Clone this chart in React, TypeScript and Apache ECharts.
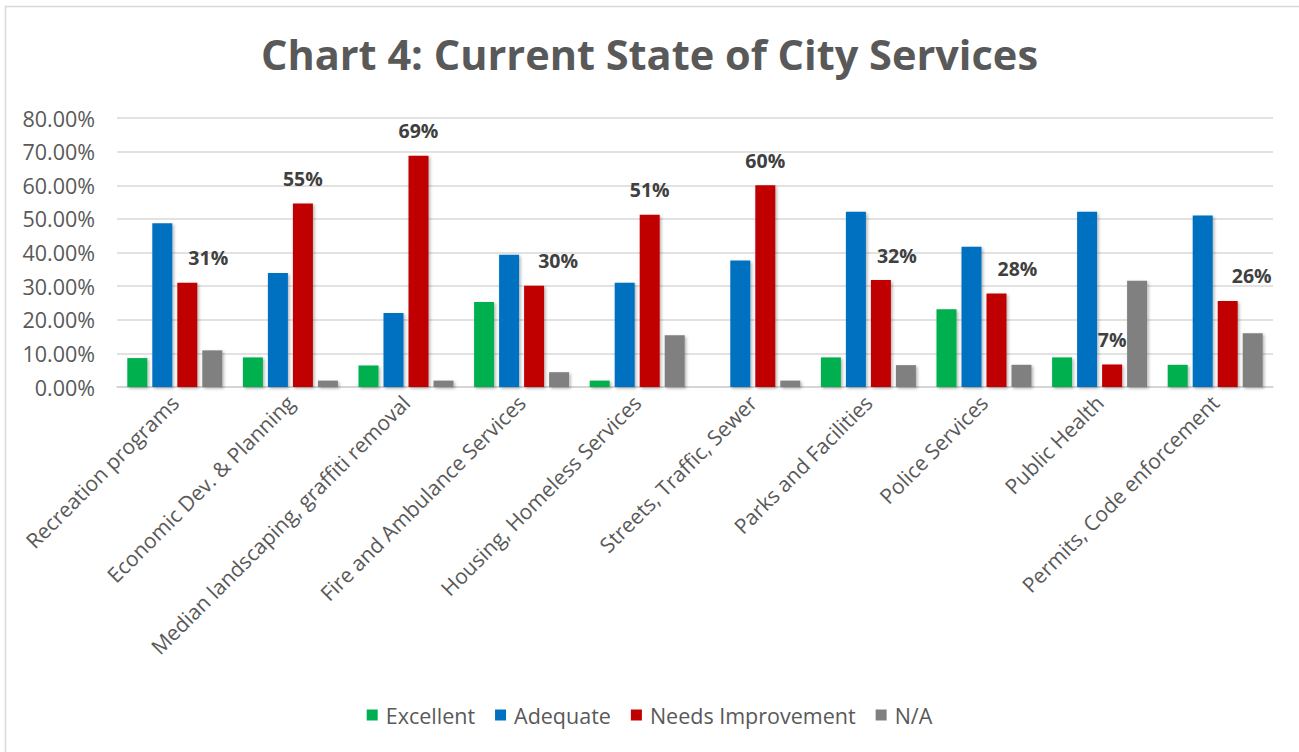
import React, { useEffect, useRef } from "react";
import * as echarts from "echarts";

const categories = [
  "Recreation programs",
  "Economic Dev. & Planning",
  "Median landscaping, graffiti removal",
  "Fire and Ambulance Services",
  "Housing, Homeless Services",
  "Streets, Traffic, Sewer",
  "Parks and Facilities",
  "Police Services",
  "Public Health",
  "Permits, Code enforcement",
];

const excellent = [8.6, 8.8, 6.4, 25.3, 1.9, 0, 8.8, 23.1, 8.8, 6.6];
const adequate = [48.7, 33.9, 22.0, 39.3, 31.0, 37.6, 52.1, 41.7, 52.1, 51.0];
const needsImprovement = [31.0, 54.6, 68.8, 30.1, 51.2, 60.0, 31.8, 27.8, 6.7, 25.6];
const notApplicable = [10.9, 1.9, 1.9, 4.4, 15.4, 1.9, 6.5, 6.6, 31.6, 16.0];

const seriesNames = ["Excellent", "Adequate", "Needs Improvement", "N/A"];
const yTicks = [0, 10, 20, 30, 40, 50, 60, 70, 80];

// label horizontal nudges (styling, as in the source chart)
const labelShiftX = [21, 0, 0, 24, 0, 0, 16, 21, 0, 24];

const FONT = "'Open Sans', 'DejaVu Sans', sans-serif";

export default function App() {
  const ref = useRef<HTMLDivElement>(null);

  useEffect(() => {
    if (!ref.current) return;
    const chart = echarts.init(ref.current, null, { renderer: "svg" });
    const shadow = {
      shadowColor: "rgba(0,0,0,0.3)",
      shadowBlur: 3,
      shadowOffsetX: 1.5,
      shadowOffsetY: 1.5,
    };
    const colors = ["#00B050", "#0070C0", "#C00000", "#808080"];
    const mk = (name: string, data: any[], color: string) => ({
      name,
      type: "bar",
      data,
      barWidth: 20,
      barGap: "25%",
      itemStyle: { color, ...shadow },
    });
    chart.setOption({
      animation: false,
      backgroundColor: "#ffffff",
      color: colors,
      title: {
        text: "Chart 4: Current State of City Services",
        left: "center",
        top: 28,
        textStyle: {
          fontFamily: FONT,
          fontWeight: "bold",
          fontSize: 41.5,
          color: "#595959",
        },
      },
      graphic: [
        {
          type: "rect",
          shape: { x: 5.5, y: 6.5, width: 1310, height: 760 },
          style: { fill: "none", stroke: "#d9d9d9", lineWidth: 1.5 },
          silent: true,
        },
      ],
      legend: {
        bottom: 21,
        left: "center",
        icon: "rect",
        itemWidth: 11,
        itemHeight: 11,
        itemGap: 20,
        textStyle: {
          fontFamily: FONT,
          fontSize: 21.5,
          color: "#595959",
          padding: [0, 0, 0, 3],
        },
        data: seriesNames,
      },
      grid: { left: 117, right: 26, top: 118, bottom: 365 },
      xAxis: {
        type: "category",
        data: categories,
        axisTick: { show: false },
        axisLine: { lineStyle: { color: "#d0d0d0", width: 1.5 } },
        axisLabel: {
          interval: 0,
          rotate: 45,
          margin: 12,
          fontFamily: FONT,
          fontSize: 21,
          color: "#595959",
        },
      },
      yAxis: {
        type: "value",
        min: yTicks[0],
        max: yTicks[yTicks.length - 1],
        interval: 10,
        axisLine: { show: false },
        axisTick: { show: false },
        splitLine: { lineStyle: { color: "#d9d9d9", width: 1.5 } },
        axisLabel: {
          margin: 22,
          fontFamily: FONT,
          fontSize: 21.5,
          color: "#595959",
          formatter: (v: number) => v.toFixed(2) + "%",
        },
      },
      series: [
        mk(seriesNames[0], excellent, colors[0]),
        mk(seriesNames[1], adequate, colors[1]),
        {
          ...mk(
            seriesNames[2],
            needsImprovement.map((v, i) => ({
              value: v,
              label: { offset: [labelShiftX[i], 0] },
            })),
            colors[2]
          ),
          label: {
            show: true,
            position: "top",
            distance: 15,
            fontFamily: FONT,
            fontWeight: "bold",
            fontSize: 19.5,
            color: "#404040",
            formatter: (p: any) => Math.round(p.value) + "%",
          },
        },
        mk(seriesNames[3], notApplicable, colors[3]),
      ],
    });
    return () => chart.dispose();
  }, []);

  return (
    <div
      ref={ref}
      style={{ position: "absolute", left: 0, top: 0, width: 1299, height: 752 }}
    />
  );
}
